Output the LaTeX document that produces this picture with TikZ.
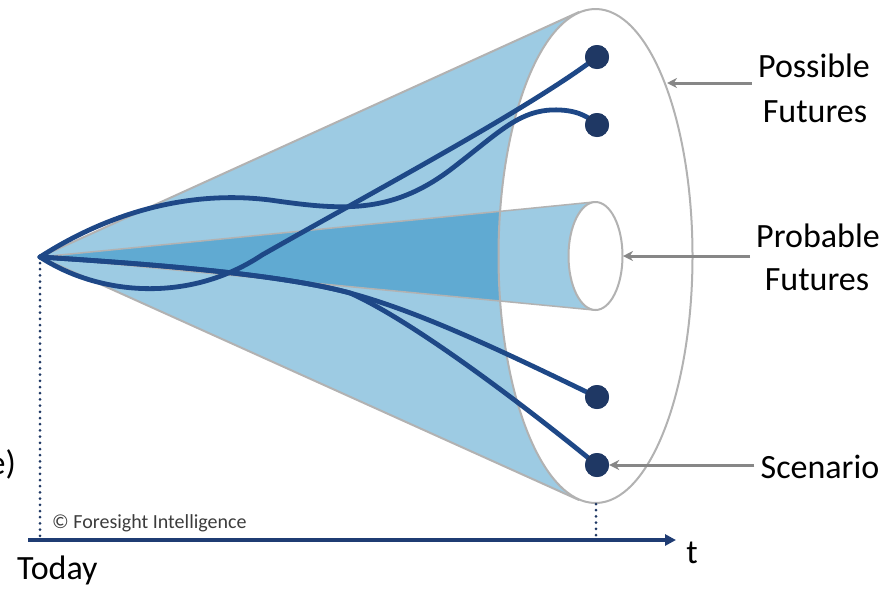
\documentclass[tikz,border=0pt]{standalone}
\usepackage{fontspec}
\setmainfont{Carlito}
\usetikzlibrary{arrows.meta}
\definecolor{conelight}{RGB}{157,203,227}
\definecolor{conedark}{RGB}{96,170,210}
\definecolor{edgegray}{RGB}{178,178,178}
\definecolor{pathblue}{RGB}{30,72,135}
\definecolor{dotnavy}{RGB}{31,56,100}
\definecolor{axisnavy}{RGB}{31,60,115}
\definecolor{arrgray}{RGB}{135,135,135}
\definecolor{txtgray}{RGB}{60,60,60}
\tikzset{
  coneedge/.style={draw=edgegray, line width=2pt},
  innerline/.style={draw=edgegray, line width=1.5pt},
  future/.style={draw=pathblue, line width=4.8pt, line cap=round},
  scen/.style={circle, fill=dotnavy, minimum size=24pt, inner sep=0pt},
  lbl/.style={font=\fontsize{34}{40}\selectfont, text=black, inner sep=0pt, inner xsep=6pt, anchor=base},
  arr/.style={draw=arrgray, line width=3pt, -{Stealth[length=10pt,width=10pt]}},
  timeaxis/.style={draw=axisnavy, line width=3.4pt, -{Triangle[length=11pt,width=11pt]}},
  dotline/.style={draw=dotnavy, line width=3pt, line cap=round, dash pattern=on 0pt off 6.2pt}
}
\begin{document}
\begin{tikzpicture}[x=1pt,y=-1pt]
\useasboundingbox (0,0) rectangle (885,592);
% key points
\coordinate (apex) at (40,257);
\coordinate (E) at (595.5,256);
\coordinate (tU) at (579,12);
\coordinate (tL) at (579,500);
\coordinate (pU) at (594,202);
\coordinate (pL) at (594,310);
\coordinate (ebot) at (596,504);
% big cone body
\fill[conelight] (apex) -- (tU) -- (tL) -- cycle;
% inner cone (darker where it overlaps the big cone)
\fill[conedark] (apex) -- (pU) -- (pL) -- cycle;
% opening of the big cone
\fill[white] (E) ellipse [x radius=97pt, y radius=247pt];
\begin{scope}
  \clip (E) ellipse [x radius=97pt, y radius=247pt];
  \fill[conelight] (apex) -- (pU) -- (pL) -- cycle;
\end{scope}
\draw[innerline] (apex) -- (pU);
\draw[innerline] (apex) -- (pL);
\draw[coneedge] (apex) -- (tU);
\draw[coneedge] (apex) -- (tL);
\draw[coneedge] (E) ellipse [x radius=97pt, y radius=247pt];
% probable futures opening
\fill[white] (E) ellipse [x radius=27pt, y radius=54pt];
\draw[coneedge] (E) ellipse [x radius=27pt, y radius=54pt];
\coordinate (pR) at (623,256);
% scenario dots
\node[scen] (s1) at (597,57) {};
\node[scen] (s2) at (597,125) {};
\node[scen] (s3) at (597,397) {};
\node[scen] (s4) at (597,465) {};
% future paths
\draw[future] (apex) .. controls (100,296) and (190,303) .. (262,255)
   .. controls (380,188) and (530,108) .. (s1.center);
\draw[future] (apex) .. controls (110,212) and (190,190) .. (270,200)
   .. controls (340,210) and (390,215) .. (450,170)
   .. controls (500,132) and (520,108) .. (560,110)
   .. controls (580,111) and (590,118) .. (s2.center);
\draw[future] (apex) .. controls (150,264) and (280,274) .. (350,293)
   .. controls (420,312) and (500,350) .. (s3.center);
\draw[future] (apex) .. controls (150,264) and (280,274) .. (350,293)
   .. controls (415,322) and (530,410) .. (s4.center);
% redraw dots on top
\node[scen] at (s1) {};
\node[scen] at (s2) {};
\node[scen] at (s3) {};
\node[scen] at (s4) {};
% time axis
\coordinate (ax0) at (28,540);
\coordinate (ax1) at (676,540);
\coordinate (apexfoot) at (40,537);
\coordinate (ebotfoot) at (596,537);
\draw[dotline] (40,263) -- (apexfoot);
\draw[dotline] (ebot) -- (ebotfoot);
\draw[timeaxis] (ax0) -- (ax1);
% labels
\node[lbl] (pf1) at (814,77) {Possible};
\node[lbl] (pf2) at (815,122) {Futures};
\node[lbl] (pb1) at (818,247) {Probable};
\node[lbl] (pb2) at (817,290) {Futures};
\node[lbl] (sc) at (820,478) {Scenario};
\node[lbl] (tl) at (692,563) {t};
\node[lbl, anchor=base west, inner xsep=0pt] (today) at (17,579) {Today};
\node[lbl, anchor=base east, inner xsep=0pt] (cut) at (16,474) {e)};
\node[font=\fontsize{20}{24}\selectfont, text=txtgray, anchor=base west, inner sep=0pt] (copy) at (52,528) {© Foresight Intelligence};
% label arrows
\coordinate (pfa) at (667,83);
\draw[arr] (pfa -| pf1.west) -- (pfa);
\draw[arr] (pR -| pb1.west) -- (pR);
\draw[arr] (s4 -| sc.west) -- (s4.east);
\end{tikzpicture}
\end{document}
